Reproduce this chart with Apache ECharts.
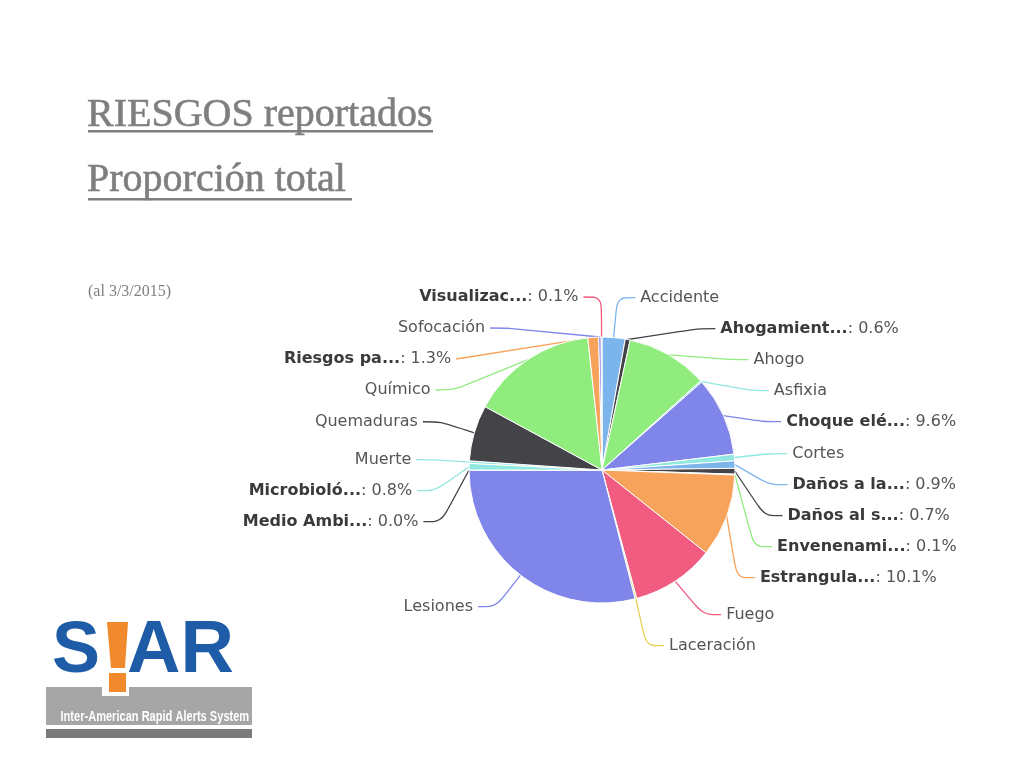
<!DOCTYPE html>
<html>
<head>
<meta charset="utf-8">
<script src="https://cdn.jsdelivr.net/npm/echarts@6/dist/echarts.min.js"></script>
<style>
html,body{margin:0;padding:0;background:#fff;}
#chart{width:1024px;height:768px;}
</style>
</head>
<body>
<div id="chart"></div>
<script>
// Category labels as shown (truncated names as in the reference)
const categories = ['Accidente','Ahogamient...','Ahogo','Asfixia','Choque elé...','Cortes','Daños a la...','Daños al s...','Envenenami...','Estrangula...','Fuego','Laceración','Lesiones','Medio Ambi...','Microbioló...','Muerte','Quemaduras','Químico','Riesgos pa...','Sofocación','Visualizac...'];
// Share of reported risks (%)
const values = [2.8,0.6,9.9,0.2,9.6,0.8,0.9,0.7,0.1,10.1,10.1,0.2,29.0,0.0,0.8,0.3,6.8,15.4,1.3,0.3,0.1];
// Whether the label shows the percentage (bold name + value)
const showPct = [false,true,false,false,true,false,true,true,true,true,false,false,false,true,true,false,false,false,true,false,true];
const colors = ['#7cb5ec','#434348','#90ed7d','#91e8e1','#8085e9','#91e8e1','#7cb5ec','#434348','#90ed7d','#f7a35c','#f15c80','#e4d354','#8085e9','#434348','#91e8e1','#91e8e1','#434348','#90ed7d','#f7a35c','#8085e9','#f15c80'];

const chart = echarts.init(document.getElementById('chart'));
const serif = '"Liberation Serif", "DejaVu Serif", serif';
chart.setOption({
  backgroundColor:'#ffffff',
  animation:false,
  graphic:[
    {type:'text', x:87, y:115, style:{text:'RIESGOS reportados', font:'40px '+serif, fill:'#7f7f7f', verticalAlign:'middle', stroke:'#7f7f7f', lineWidth:0.6}},
    {type:'rect', shape:{x:88, y:130, width:345, height:2.5}, style:{fill:'#7f7f7f'}},
    {type:'text', x:87, y:180, style:{text:'Proporción total', font:'40px '+serif, fill:'#7f7f7f', verticalAlign:'middle', stroke:'#7f7f7f', lineWidth:0.6}},
    {type:'rect', shape:{x:88, y:198, width:264, height:2.5}, style:{fill:'#7f7f7f'}},
    {type:'text', x:88, y:292, style:{text:'(al 3/3/2015)', font:'16px '+serif, fill:'#808080', verticalAlign:'middle'}},
    // logo
    {type:'rect', shape:{x:46, y:687, width:206, height:38}, style:{fill:'#a6a6a6'}},
    {type:'rect', shape:{x:102, y:687, width:27, height:9}, style:{fill:'#ffffff'}},
    {type:'rect', shape:{x:46, y:729, width:206, height:9}, style:{fill:'#7a7a7a'}},
    {type:'text', x:52, y:652, style:{text:'S', font:'bold 72px "Liberation Sans", Arial, sans-serif', fill:'#1f5ca8', verticalAlign:'middle'}},
    {type:'text', x:127, y:652, style:{text:'AR', font:'bold 74px "Liberation Sans", Arial, sans-serif', fill:'#1f5ca8', verticalAlign:'middle'}},
    {type:'polygon', shape:{points:[[107,622],[128,622],[125,668],[111,668]]}, style:{fill:'#f08a2c'}},
    {type:'rect', shape:{x:109, y:673, width:17, height:19}, style:{fill:'#f08a2c'}},
    {type:'text', x:50, y:717, scaleX:0.79, originX:50, originY:717, style:{text:'Inter-American Rapid Alerts System', font:'bold 14px "Liberation Sans", Arial, sans-serif', fill:'#ffffff', verticalAlign:'middle'}}
  ],
  series:[{
    type:'pie',
    center:[602,470],
    radius:133,
    startAngle:90,
    clockwise:true,
    avoidLabelOverlap:true,
    itemStyle:{borderColor:'#ffffff', borderWidth:1},
    label:{
      fontFamily:'"DejaVu Sans", Verdana, sans-serif',
      fontSize:16,
      lineHeight:19,
      padding:[5,0,5,0],
      color:'#555555',
      formatter:function(p){
        const i = p.dataIndex;
        return showPct[i] ? '{b|' + categories[i] + '}: ' + values[i].toFixed(1) + '%' : categories[i];
      },
      rich:{b:{fontWeight:'bold', color:'#3a3a3a', fontFamily:'"DejaVu Sans", Verdana, sans-serif', fontSize:16, lineHeight:19}}
    },
    labelLine:{length:40, length2:18, smooth:0.3, lineStyle:{width:1.3}},
    data: categories.map(function(c,i){return {name:c, value:values[i], itemStyle:{color:colors[i]}};})
  }]
});
</script>
</body>
</html>
